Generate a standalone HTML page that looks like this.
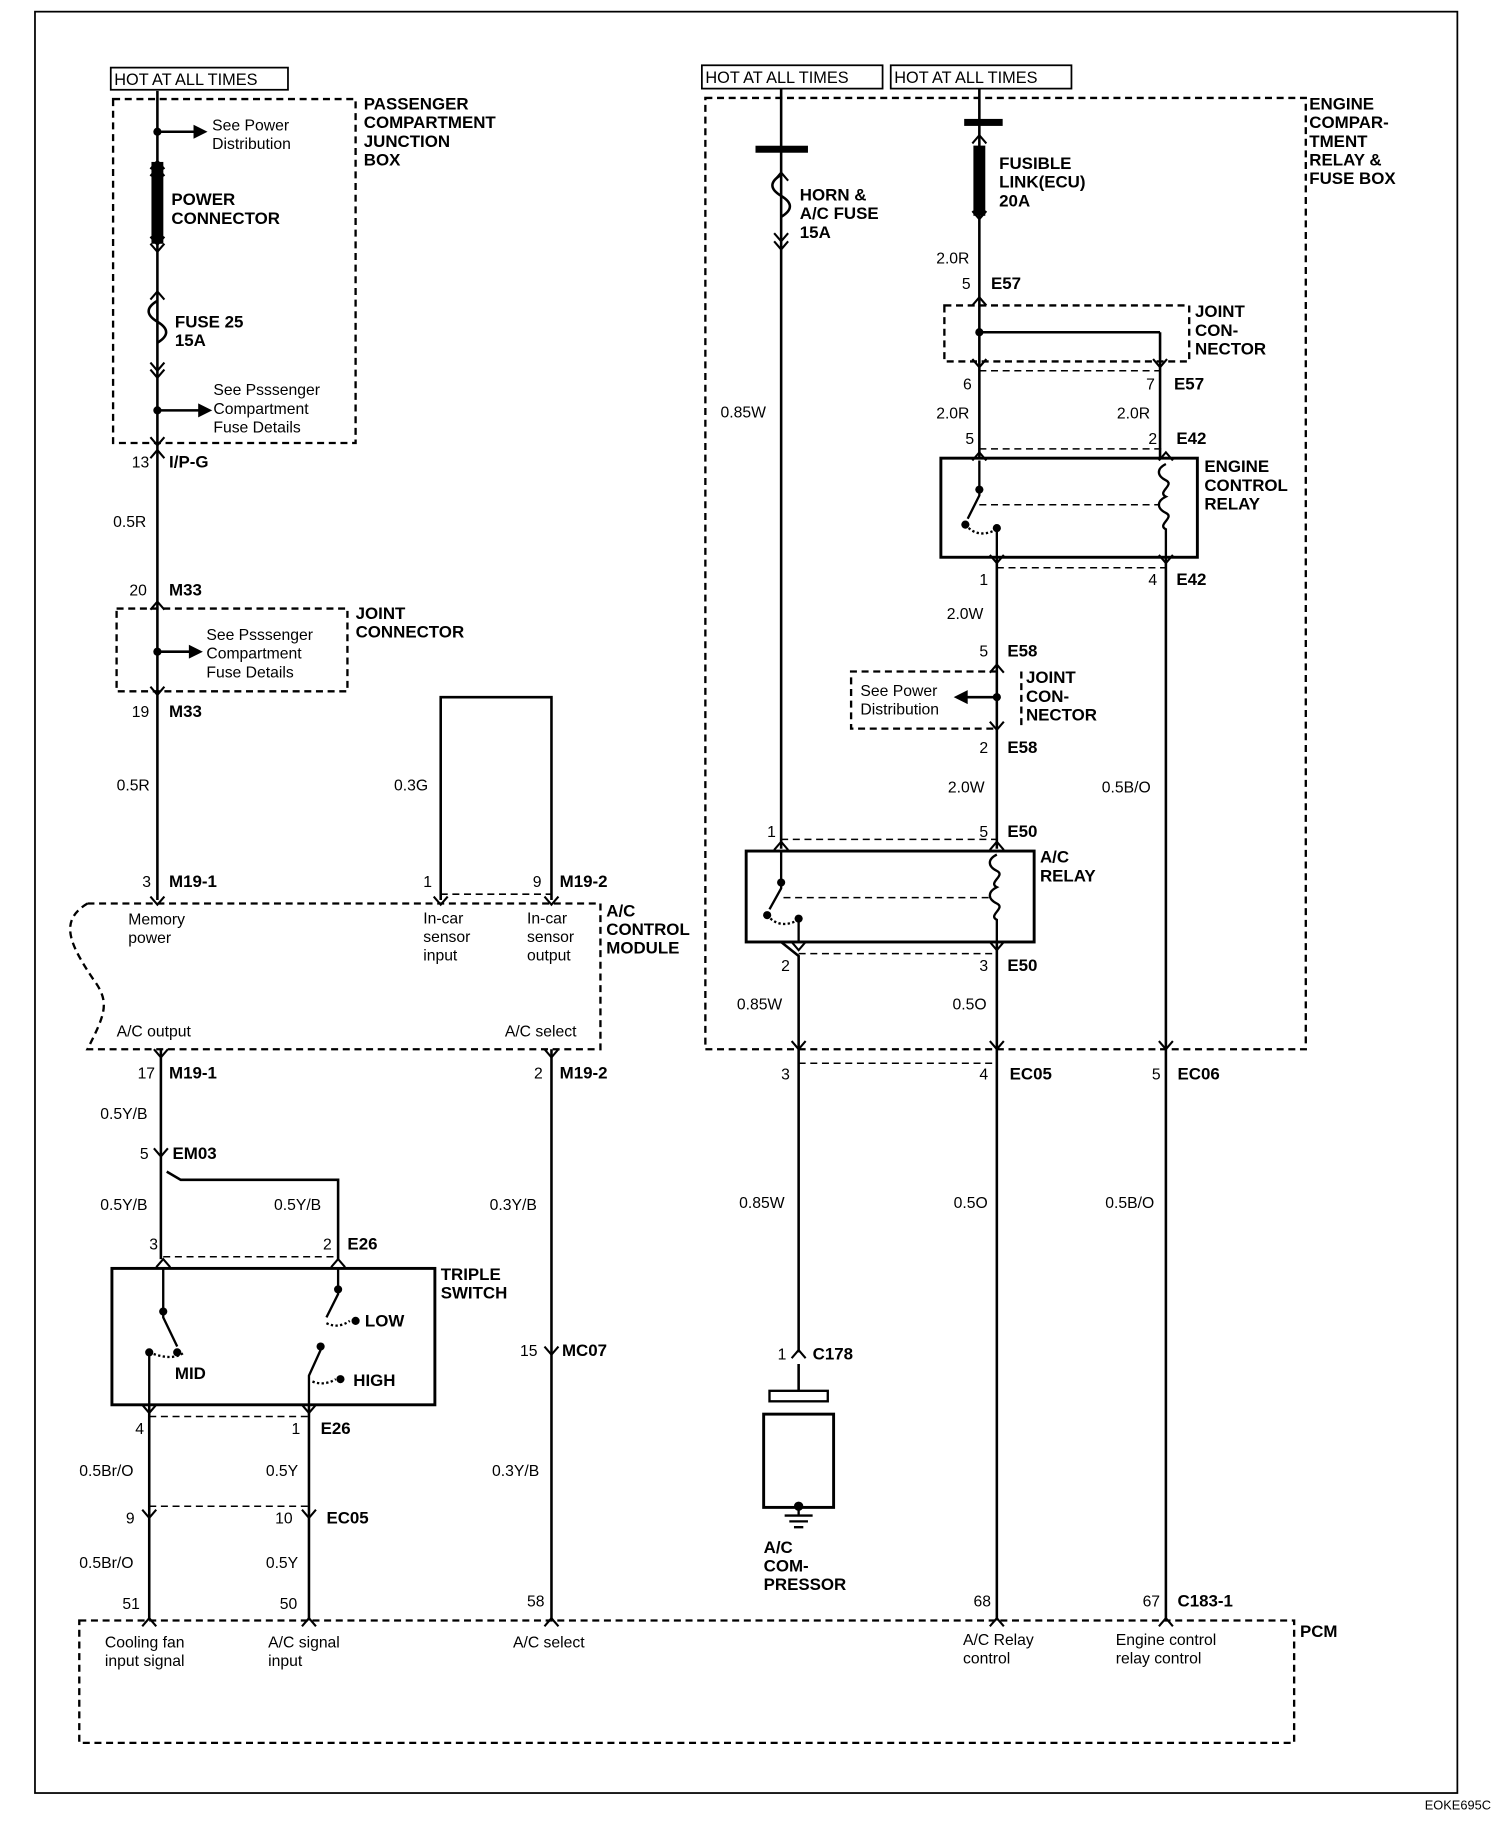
<!DOCTYPE html>
<html><head><meta charset="utf-8"><style>
html,body{margin:0;padding:0;background:#fff}
svg{display:block}
text{font-family:"Liberation Sans",Arial,sans-serif;fill:#000}
.b{font-weight:bold;font-size:14.5px}
.n{font-size:13.5px}
.s{font-size:14px}
</style></head><body>
<svg width="1504" height="1828" viewBox="0 0 1290 1568" preserveAspectRatio="none" xmlns="http://www.w3.org/2000/svg">
<defs>
<g id="up"><path d="M-6,5 L0,-2 L6,5" fill="none" stroke="#000" stroke-width="1.8"/></g>
<g id="dn"><path d="M-6,-5 L0,2 L6,-5" fill="none" stroke="#000" stroke-width="1.8"/></g>
</defs>
<rect x="30" y="10" width="1220" height="1528" fill="none" stroke="#000" stroke-width="1.5"/>
<text x="1222" y="1552" class="n" style="font-size:11px">EOKE695C</text>

<g stroke="#000" stroke-width="2.2" fill="none">
<!-- LEFT main wire -->
<path d="M135,78 V772"/>
<rect x="131" y="140" width="8" height="68" fill="#000"/>
<path d="M135,258 c-10,6 -10,12 0,18 c10,6 10,12 0,18"/>
<path d="M135,113 H168"/>
<path d="M135,352 H172"/>
<path d="M135,559 H166"/>
<!-- 0.3G loop -->
<path d="M378,772 V598 H473 V772"/>
<!-- below module -->
<path d="M138,900 V1080"/>
<path d="M143,1005 L155,1012 H290 V1080"/>
<path d="M128,1205 V1390"/>
<path d="M265,1205 V1390"/>
<path d="M473,900 V1390"/>
<!-- right side -->
<path d="M670,76 V728"/>
<path d="M670,808 L685,820 V1160"/>
<path d="M670,150 c-10,6 -10,12 0,18 c10,6 10,12 0,18"/>
<path d="M840,76 V393"/>
<rect x="836" y="126" width="8" height="58" fill="#000"/>
<path d="M995,285 H840 M995,285 V393"/>
<path d="M1000,478 V1390"/>
<path d="M855,478 V728"/>
<path d="M855,808 V1390"/>
<path d="M685,1170 V1193"/>
<path d="M855,598 H828"/>
</g>
<g fill="#000">
<rect x="648" y="125" width="45" height="6"/>
<rect x="827" y="102" width="33" height="6"/>
<circle cx="135" cy="113" r="3.5"/><path d="M166,107 L178,113 L166,119Z"/>
<circle cx="135" cy="352" r="3.5"/><path d="M170,346 L182,352 L170,358Z"/>
<circle cx="135" cy="559" r="3.5"/><path d="M162,553 L174,559 L162,565Z"/>
<circle cx="840" cy="285" r="3.5"/>
<circle cx="855" cy="598" r="3.5"/><path d="M830,592 L818,598 L830,604Z"/>
</g>

<!-- connectors -->
<g>
<use href="#up" x="135" y="140"/><use href="#up" x="135" y="146"/>
<use href="#dn" x="135" y="208"/><use href="#dn" x="135" y="214"/>
<use href="#up" x="135" y="252"/><use href="#dn" x="135" y="316"/><use href="#dn" x="135" y="322"/>
<use href="#dn" x="135" y="380"/><use href="#up" x="135" y="388"/>
<use href="#up" x="135" y="518"/><use href="#dn" x="135" y="594"/>
<use href="#dn" x="135" y="774"/><use href="#dn" x="378" y="774"/><use href="#dn" x="473" y="774"/>
<use href="#dn" x="138" y="905"/><use href="#dn" x="473" y="905"/>
<use href="#dn" x="138" y="990"/>
<use href="#up" x="140" y="1082"/><use href="#up" x="290" y="1082"/>
<use href="#dn" x="128" y="1210"/><use href="#dn" x="265" y="1210"/>
<use href="#dn" x="128" y="1300"/><use href="#dn" x="265" y="1300"/>
<use href="#dn" x="473" y="1160"/>
<use href="#up" x="128" y="1390"/><use href="#up" x="265" y="1390"/><use href="#up" x="473" y="1390"/>
<use href="#up" x="855" y="1390"/><use href="#up" x="1000" y="1390"/>
<use href="#up" x="670" y="150"/><use href="#dn" x="670" y="205"/><use href="#dn" x="670" y="212"/>
<use href="#up" x="840" y="118"/><use href="#dn" x="840" y="186"/>
<use href="#up" x="840" y="257"/><use href="#dn" x="840" y="313"/><use href="#dn" x="995" y="313"/>
<use href="#up" x="840" y="390"/><use href="#up" x="1000" y="390"/>
<use href="#dn" x="855" y="481"/><use href="#dn" x="1000" y="481"/>
<use href="#up" x="855" y="572"/><use href="#dn" x="855" y="624"/>
<use href="#up" x="670" y="724"/><use href="#up" x="855" y="724"/>
<use href="#dn" x="685" y="813"/><use href="#dn" x="855" y="813"/>
<use href="#dn" x="685" y="898"/><use href="#dn" x="855" y="898"/><use href="#dn" x="1000" y="898"/>
<use href="#up" x="685" y="1160"/>
</g>

<!-- dashed boxes -->
<g stroke="#000" stroke-width="2" fill="none" stroke-dasharray="6,4">
<rect x="97" y="85" width="208" height="295"/>
<rect x="100" y="522" width="198" height="71"/>
<path d="M75,775 H515 V900 H75 C90,870 95,860 80,840 C60,810 50,790 75,775"/>
<path d="M378,767 H473" stroke-width="1.3"/>
<rect x="605" y="84" width="515" height="816"/>
<rect x="810" y="262" width="210" height="48"/>
<path d="M855,576 H730 V625 H855"/>
<path d="M876,576 V625"/>
<path d="M840,385 H1000 M855,487 H1000 M670,720 H855 M685,818 H855 M685,912 H855" stroke-width="1.3"/>
<path d="M840,318 H995" stroke-width="1.3"/>
<path d="M140,1078 H290 M128,1215 H265 M128,1292 H265" stroke-width="1.3"/>
<rect x="68" y="1390" width="1042" height="105"/>
</g>

<!-- relays / switch boxes -->
<g stroke="#000" stroke-width="2.5" fill="none">
<rect x="807" y="393" width="220" height="85"/>
<rect x="640" y="730" width="247" height="78"/>
<rect x="96" y="1088" width="277" height="117"/>
<rect x="655" y="1213" width="60" height="80"/>
<rect x="660" y="1193" width="50" height="9" stroke-width="2"/>
</g>
<g stroke="#000" stroke-width="2" fill="none">
<!-- engine control relay internals -->
<path d="M840,395 V425 L830,445"/><path d="M855,455 V478"/>
<path d="M828,450 q10,12 25,5" stroke-dasharray="2,2"/>
<path d="M840,433 H995" stroke-dasharray="6,4" stroke-width="1.3"/>
<path d="M1000,398 c-8,4 -8,10 0,14 c8,4 -8,10 0,14 c-8,4 -8,10 0,14 c8,4 -8,10 0,14 V478"/>
<!-- A/C relay internals -->
<path d="M670,730 V762 L660,780"/><path d="M685,790 V808"/>
<path d="M658,785 q10,12 25,5" stroke-dasharray="2,2"/>
<path d="M672,770 H850" stroke-dasharray="6,4" stroke-width="1.3"/>
<path d="M855,733 c-8,4 -8,10 0,14 c8,4 -8,10 0,14 c-8,4 -8,10 0,14 c8,4 -8,10 0,14 V808"/>
<!-- triple switch internals -->
<path d="M140,1088 V1130 L152,1155"/>
<path d="M128,1160 V1205"/>
<path d="M128,1160 q20,8 30,0" stroke-dasharray="2,2"/>
<path d="M290,1088 V1110 L280,1130 M265,1205 V1180 L275,1158"/>
<path d="M280,1135 q10,5 20,-2 M268,1185 q10,4 20,-2" stroke-dasharray="2,2"/>
<!-- ground -->
<path d="M685,1293 V1300 M673,1300 H697 M677,1305 H693 M681,1310 H689"/>
</g>
<g fill="#000">
<circle cx="840" cy="420" r="3.5"/><circle cx="828" cy="450" r="3.5"/><circle cx="855" cy="453" r="3.5"/>
<circle cx="670" cy="757" r="3.5"/><circle cx="658" cy="785" r="3.5"/><circle cx="685" cy="788" r="3.5"/>
<circle cx="140" cy="1125" r="3.5"/><circle cx="128" cy="1160" r="3.5"/><circle cx="152" cy="1160" r="3.5"/>
<circle cx="290" cy="1106" r="3.5"/><circle cx="305" cy="1133" r="3.5"/><circle cx="275" cy="1155" r="3.5"/><circle cx="292" cy="1183" r="3.5"/>
<circle cx="685" cy="1292" r="4"/>
</g>

<!-- HOT boxes -->
<g stroke="#000" stroke-width="1.5" fill="none">
<rect x="95" y="58" width="152" height="19"/>
<rect x="602" y="56" width="155" height="20"/>
<rect x="764" y="56" width="155" height="20"/>
</g>
<text x="98" y="73" class="s">HOT AT ALL TIMES</text>
<text x="605" y="71" class="s">HOT AT ALL TIMES</text>
<text x="767" y="71" class="s">HOT AT ALL TIMES</text>

<!-- LEFT texts -->
<text class="n"><tspan x="182" y="112">See Power</tspan><tspan x="182" y="128">Distribution</tspan></text>
<text class="b"><tspan x="312" y="94">PASSENGER</tspan><tspan x="312" y="110">COMPARTMENT</tspan><tspan x="312" y="126">JUNCTION</tspan><tspan x="312" y="142">BOX</tspan></text>
<text class="b"><tspan x="147" y="176">POWER</tspan><tspan x="147" y="192">CONNECTOR</tspan></text>
<text class="b"><tspan x="150" y="281">FUSE 25</tspan><tspan x="150" y="297">15A</tspan></text>
<text class="n"><tspan x="183" y="339">See Psssenger</tspan><tspan x="183" y="355">Compartment</tspan><tspan x="183" y="371">Fuse Details</tspan></text>
<text class="n" x="113" y="401">13</text><text class="b" x="145" y="401">I/P-G</text>
<text class="n" x="97" y="452">0.5R</text>
<text class="n" x="111" y="511">20</text><text class="b" x="145" y="511">M33</text>
<text class="n"><tspan x="177" y="549">See Psssenger</tspan><tspan x="177" y="565">Compartment</tspan><tspan x="177" y="581">Fuse Details</tspan></text>
<text class="b"><tspan x="305" y="531">JOINT</tspan><tspan x="305" y="547">CONNECTOR</tspan></text>
<text class="n" x="113" y="615">19</text><text class="b" x="145" y="615">M33</text>
<text class="n" x="100" y="678">0.5R</text>
<text class="n" x="338" y="678">0.3G</text>
<text class="n" x="122" y="761">3</text><text class="b" x="145" y="761">M19-1</text>
<text class="n" x="363" y="761">1</text><text class="n" x="457" y="761">9</text><text class="b" x="480" y="761">M19-2</text>
<text class="n"><tspan x="110" y="793">Memory</tspan><tspan x="110" y="809">power</tspan></text>
<text class="n"><tspan x="363" y="792">In-car</tspan><tspan x="363" y="808">sensor</tspan><tspan x="363" y="824">input</tspan></text>
<text class="n"><tspan x="452" y="792">In-car</tspan><tspan x="452" y="808">sensor</tspan><tspan x="452" y="824">output</tspan></text>
<text class="b"><tspan x="520" y="786">A/C</tspan><tspan x="520" y="802">CONTROL</tspan><tspan x="520" y="818">MODULE</tspan></text>
<text class="n" x="100" y="889">A/C output</text><text class="n" x="433" y="889">A/C select</text>
<text class="n" x="118" y="925">17</text><text class="b" x="145" y="925">M19-1</text>
<text class="n" x="458" y="925">2</text><text class="b" x="480" y="925">M19-2</text>
<text class="n" x="86" y="960">0.5Y/B</text>
<text class="n" x="120" y="994">5</text><text class="b" x="148" y="994">EM03</text>
<text class="n" x="86" y="1038">0.5Y/B</text><text class="n" x="235" y="1038">0.5Y/B</text><text class="n" x="420" y="1038">0.3Y/B</text>
<text class="n" x="128" y="1072">3</text><text class="n" x="277" y="1072">2</text><text class="b" x="298" y="1072">E26</text>
<text class="b"><tspan x="378" y="1098">TRIPLE</tspan><tspan x="378" y="1114">SWITCH</tspan></text>
<text class="b" x="313" y="1138">LOW</text><text class="b" x="150" y="1183">MID</text><text class="b" x="303" y="1189">HIGH</text>
<text class="n" x="446" y="1163">15</text><text class="b" x="482" y="1163">MC07</text>
<text class="n" x="116" y="1230">4</text><text class="n" x="250" y="1230">1</text><text class="b" x="275" y="1230">E26</text>
<text class="n" x="68" y="1266">0.5Br/O</text><text class="n" x="228" y="1266">0.5Y</text><text class="n" x="422" y="1266">0.3Y/B</text>
<text class="n" x="108" y="1307">9</text><text class="n" x="236" y="1307">10</text><text class="b" x="280" y="1307">EC05</text>
<text class="n" x="68" y="1345">0.5Br/O</text><text class="n" x="228" y="1345">0.5Y</text>
<text class="n" x="105" y="1380">51</text><text class="n" x="240" y="1380">50</text><text class="n" x="452" y="1378">58</text>
<text class="n"><tspan x="90" y="1413">Cooling fan</tspan><tspan x="90" y="1429">input signal</tspan></text>
<text class="n"><tspan x="230" y="1413">A/C signal</tspan><tspan x="230" y="1429">input</tspan></text>
<text class="n" x="440" y="1413">A/C select</text>
<text class="n"><tspan x="826" y="1411">A/C Relay</tspan><tspan x="826" y="1427">control</tspan></text>
<text class="n"><tspan x="957" y="1411">Engine control</tspan><tspan x="957" y="1427">relay control</tspan></text>
<text class="b" x="1115" y="1404">PCM</text>

<!-- RIGHT texts -->
<text class="b"><tspan x="1123" y="94">ENGINE</tspan><tspan x="1123" y="110">COMPAR-</tspan><tspan x="1123" y="126">TMENT</tspan><tspan x="1123" y="142">RELAY &amp;</tspan><tspan x="1123" y="158">FUSE BOX</tspan></text>
<text class="b"><tspan x="686" y="172">HORN &amp;</tspan><tspan x="686" y="188">A/C FUSE</tspan><tspan x="686" y="204">15A</tspan></text>
<text class="b"><tspan x="857" y="145">FUSIBLE</tspan><tspan x="857" y="161">LINK(ECU)</tspan><tspan x="857" y="177">20A</tspan></text>
<text class="n" x="803" y="226">2.0R</text>
<text class="n" x="825" y="248">5</text><text class="b" x="850" y="248">E57</text>
<text class="b"><tspan x="1025" y="272">JOINT</tspan><tspan x="1025" y="288">CON-</tspan><tspan x="1025" y="304">NECTOR</tspan></text>
<text class="n" x="826" y="334">6</text><text class="n" x="983" y="334">7</text><text class="b" x="1007" y="334">E57</text>
<text class="n" x="618" y="358">0.85W</text>
<text class="n" x="803" y="359">2.0R</text><text class="n" x="958" y="359">2.0R</text>
<text class="n" x="828" y="381">5</text><text class="n" x="985" y="381">2</text><text class="b" x="1009" y="381">E42</text>
<text class="b"><tspan x="1033" y="405">ENGINE</tspan><tspan x="1033" y="421">CONTROL</tspan><tspan x="1033" y="437">RELAY</tspan></text>
<text class="n" x="840" y="502">1</text><text class="n" x="985" y="502">4</text><text class="b" x="1009" y="502">E42</text>
<text class="n" x="812" y="531">2.0W</text>
<text class="n" x="840" y="563">5</text><text class="b" x="864" y="563">E58</text>
<text class="n"><tspan x="738" y="597">See Power</tspan><tspan x="738" y="613">Distribution</tspan></text>
<text class="b"><tspan x="880" y="586">JOINT</tspan><tspan x="880" y="602">CON-</tspan><tspan x="880" y="618">NECTOR</tspan></text>
<text class="n" x="840" y="646">2</text><text class="b" x="864" y="646">E58</text>
<text class="n" x="813" y="680">2.0W</text><text class="n" x="945" y="680">0.5B/O</text>
<text class="n" x="658" y="718">1</text><text class="n" x="840" y="718">5</text><text class="b" x="864" y="718">E50</text>
<text class="b"><tspan x="892" y="740">A/C</tspan><tspan x="892" y="756">RELAY</tspan></text>
<text class="n" x="670" y="833">2</text><text class="n" x="840" y="833">3</text><text class="b" x="864" y="833">E50</text>
<text class="n" x="632" y="866">0.85W</text><text class="n" x="817" y="866">0.5O</text>
<text class="n" x="670" y="926">3</text><text class="n" x="840" y="926">4</text><text class="b" x="866" y="926">EC05</text>
<text class="n" x="988" y="926">5</text><text class="b" x="1010" y="926">EC06</text>
<text class="n" x="634" y="1036">0.85W</text><text class="n" x="818" y="1036">0.5O</text><text class="n" x="948" y="1036">0.5B/O</text>
<text class="n" x="667" y="1166">1</text><text class="b" x="697" y="1166">C178</text>
<text class="b"><tspan x="655" y="1332">A/C</tspan><tspan x="655" y="1348">COM-</tspan><tspan x="655" y="1364">PRESSOR</tspan></text>
<text class="n" x="835" y="1378">68</text><text class="n" x="980" y="1378">67</text><text class="b" x="1010" y="1378">C183-1</text>
</svg>
</body></html>
